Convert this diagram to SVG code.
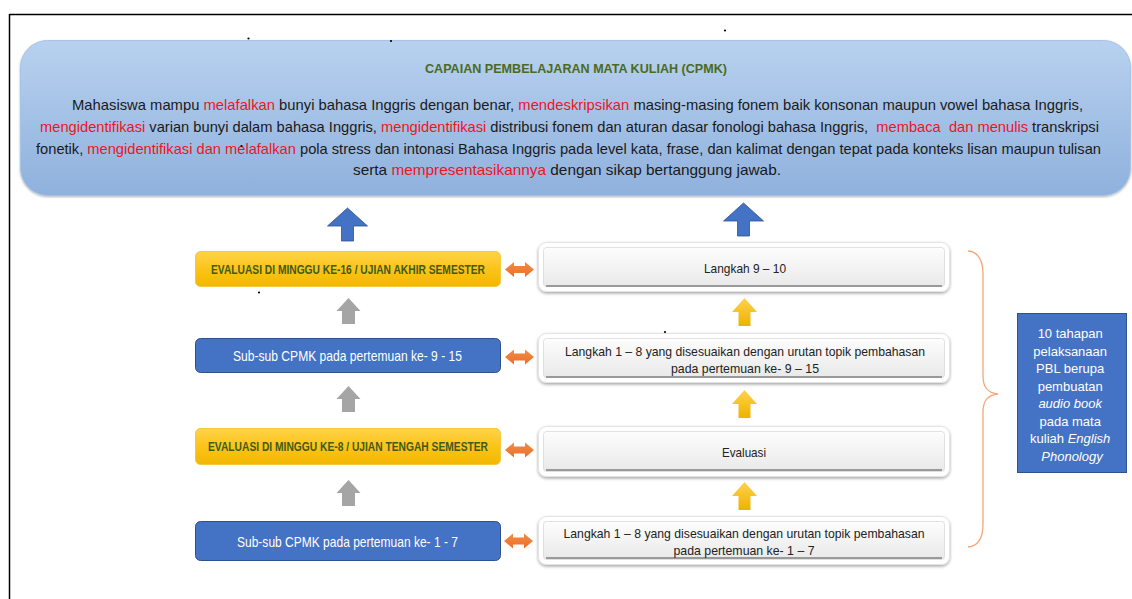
<svg xmlns="http://www.w3.org/2000/svg" width="1132" height="599" viewBox="0 0 1132 599">
<defs>
<linearGradient id="gTop" x1="0" y1="0" x2="0" y2="1"><stop offset="0" stop-color="#b8d1ef"/><stop offset="1" stop-color="#8fb1dd"/></linearGradient>
<linearGradient id="gGold" x1="0" y1="0" x2="0" y2="1"><stop offset="0" stop-color="#ffd34a"/><stop offset="0.5" stop-color="#fcc419"/><stop offset="1" stop-color="#f2b700"/></linearGradient>
<linearGradient id="gGray" x1="0" y1="0" x2="0" y2="1"><stop offset="0" stop-color="#fdfdfd"/><stop offset="1" stop-color="#e9e9e9"/></linearGradient>
<linearGradient id="gYArrow" x1="0" y1="0" x2="0" y2="1"><stop offset="0" stop-color="#ffd24d"/><stop offset="1" stop-color="#eeb200"/></linearGradient>
<linearGradient id="gOrange" x1="0" y1="0" x2="0" y2="1"><stop offset="0" stop-color="#f58a45"/><stop offset="1" stop-color="#e8712a"/></linearGradient>
<filter id="sh" x="-5%" y="-20%" width="110%" height="150%"><feDropShadow dx="0" dy="1.5" stdDeviation="1.8" flood-color="#000" flood-opacity="0.35"/></filter>
<filter id="sh2" x="-5%" y="-20%" width="110%" height="150%"><feDropShadow dx="0" dy="1" stdDeviation="1" flood-color="#000" flood-opacity="0.3"/></filter>
<path id="dblArrow" d="M-14.5,0 L-5.5,-7.5 L-5.5,-3.5 L5.5,-3.5 L5.5,-7.5 L14.5,0 L5.5,7.5 L5.5,3.5 L-5.5,3.5 L-5.5,7.5 Z"/>
<path id="grayUp" d="M0,0 L12,13 L6.5,13 L6.5,26 L-6.5,26 L-6.5,13 L-12,13 Z"/>
<path id="yellowUp" d="M0,0 L12.5,14 L6,14 L6,28 L-6,28 L-6,14 L-12.5,14 Z"/>
<path id="blueUp" d="M0,0 L20,18 L6,18 L6,33 L-6,33 L-6,18 L-20,18 Z"/>
</defs>
<style>
.t{font-family:"Liberation Sans",Arial,sans-serif;}
.body{font-size:15px;fill:#1a1a1a;white-space:pre;}
.red{fill:#f0141e;}
.title{font-size:13.5px;font-weight:bold;fill:#4a6a23;}
.ytxt{font-size:12.5px;font-weight:bold;fill:#3f5a1a;}
.btxt{font-size:14.5px;fill:#ffffff;}
.gtxt{font-size:13.5px;fill:#222;}
.stxt{font-size:13px;fill:#ffffff;}
.ybox{fill:url(#gGold);stroke:#f5c842;stroke-width:1;}
.bbox{fill:#4472c4;stroke:#2f528f;stroke-width:1;}
.frame{fill:#ffffff;stroke:#e4e4e4;stroke-width:1;}
.gbox{fill:url(#gGray);stroke:#d9d9d9;stroke-width:0.8;}
.gline{stroke:#9a9a9a;stroke-width:2;}
.dot{fill:#000;}
</style>

<rect width="1132" height="599" fill="#ffffff"/>
<g id="page-frame">
<line x1="9.5" y1="14.5" x2="1132" y2="14.5" stroke="#000" stroke-width="1.5"/>
<line x1="9.5" y1="14" x2="9.5" y2="599" stroke="#000" stroke-width="1.5"/>
</g>

<g id="cpmk">
<rect x="20.5" y="40.5" width="1110" height="155" rx="27" fill="url(#gTop)" stroke="#a8c3e6" stroke-width="1" filter="url(#sh2)"/>
<text class="t title" x="425" y="72.5" textLength="302" lengthAdjust="spacingAndGlyphs">CAPAIAN PEMBELAJARAN MATA KULIAH (CPMK)</text>
<text class="t body" x="72" y="110" textLength="1011" lengthAdjust="spacingAndGlyphs">Mahasiswa mampu <tspan class="red">melafalkan</tspan> bunyi bahasa Inggris dengan benar, <tspan class="red">mendeskripsikan</tspan> masing-masing fonem baik konsonan maupun vowel bahasa Inggris,</text>
<text class="t body" x="40" y="132" textLength="1059" lengthAdjust="spacingAndGlyphs"><tspan class="red">mengidentifikasi</tspan> varian bunyi dalam bahasa Inggris, <tspan class="red">mengidentifikasi</tspan> distribusi fonem dan aturan dasar fonologi bahasa Inggris,  <tspan class="red">membaca  dan menulis</tspan> transkripsi</text>
<text class="t body" x="36" y="154" textLength="1065" lengthAdjust="spacingAndGlyphs">fonetik, <tspan class="red">mengidentifikasi dan melafalkan</tspan> pola stress dan intonasi Bahasa Inggris pada level kata, frase, dan kalimat dengan tepat pada konteks lisan maupun tulisan</text>
<text class="t body" x="353" y="175" textLength="428" lengthAdjust="spacingAndGlyphs">serta <tspan class="red">mempresentasikannya</tspan> dengan sikap bertanggung jawab.</text>
</g>

<g id="eval-uas">
<rect class="ybox" x="195.5" y="251.5" width="305" height="35" rx="5"/>
<text class="t ytxt" x="211" y="274" textLength="274" lengthAdjust="spacingAndGlyphs">EVALUASI DI MINGGU KE-16 / UJIAN AKHIR SEMESTER</text>
</g>
<g id="sub-cpmk-9-15">
<rect class="bbox" x="195.5" y="338.5" width="305" height="34" rx="5"/>
<text class="t btxt" x="347.5" y="360.5" text-anchor="middle" textLength="229" lengthAdjust="spacingAndGlyphs">Sub-sub CPMK pada pertemuan ke- 9 - 15</text>
</g>
<g id="eval-uts">
<rect class="ybox" x="195.5" y="428.5" width="305" height="36" rx="5"/>
<text class="t ytxt" x="208" y="451" textLength="280" lengthAdjust="spacingAndGlyphs">EVALUASI DI MINGGU KE-8 / UJIAN TENGAH SEMESTER</text>
</g>
<g id="sub-cpmk-1-7">
<rect class="bbox" x="195.5" y="521.5" width="305" height="39" rx="5"/>
<text class="t btxt" x="347.5" y="546.5" text-anchor="middle" textLength="221" lengthAdjust="spacingAndGlyphs">Sub-sub CPMK pada pertemuan ke- 1 - 7</text>
</g>

<g id="langkah-9-10">
<rect class="frame" x="538.5" y="242.5" width="411" height="49" rx="8" filter="url(#sh)"/>
<rect class="gbox" x="543.5" y="247.5" width="401" height="39" rx="3"/>
<line class="gline" x1="546" y1="286" x2="942" y2="286"/>
<text class="t gtxt" x="745" y="272.5" text-anchor="middle" textLength="82" lengthAdjust="spacingAndGlyphs">Langkah 9 – 10</text>
</g>
<g id="langkah-1-8-b">
<rect class="frame" x="538.5" y="333.5" width="411" height="49" rx="8" filter="url(#sh)"/>
<rect class="gbox" x="543.5" y="338.5" width="401" height="39" rx="3"/>
<line class="gline" x1="546" y1="377" x2="942" y2="377"/>
<text class="t gtxt" x="745" y="355.5" text-anchor="middle" textLength="360" lengthAdjust="spacingAndGlyphs">Langkah 1 – 8 yang disesuaikan dengan urutan topik pembahasan</text>
<text class="t gtxt" x="745" y="372.5" text-anchor="middle" textLength="148" lengthAdjust="spacingAndGlyphs">pada pertemuan ke- 9 – 15</text>
</g>
<g id="evaluasi">
<rect class="frame" x="538.5" y="426.5" width="411" height="50" rx="8" filter="url(#sh)"/>
<rect class="gbox" x="543.5" y="431.5" width="401" height="40" rx="3"/>
<line class="gline" x1="546" y1="470" x2="942" y2="470"/>
<text class="t gtxt" x="744" y="456.5" text-anchor="middle" textLength="44" lengthAdjust="spacingAndGlyphs">Evaluasi</text>
</g>
<g id="langkah-1-8-a">
<rect class="frame" x="538.5" y="516.5" width="411" height="48" rx="8" filter="url(#sh)"/>
<rect class="gbox" x="543.5" y="521.5" width="401" height="38" rx="3"/>
<line class="gline" x1="546" y1="558" x2="942" y2="558"/>
<text class="t gtxt" x="744" y="537.5" text-anchor="middle" textLength="361" lengthAdjust="spacingAndGlyphs">Langkah 1 – 8 yang disesuaikan dengan urutan topik pembahasan</text>
<text class="t gtxt" x="744" y="555" text-anchor="middle" textLength="141" lengthAdjust="spacingAndGlyphs">pada pertemuan ke- 1 – 7</text>
</g>

<g id="pbl-note">
<rect x="1017.5" y="313.5" width="109" height="159" fill="#4472c4" stroke="#2f528f" stroke-width="1"/>
<text class="t stxt" text-anchor="middle">
<tspan x="1072" y="338">10 tahapan</tspan>
<tspan x="1072" y="355.5">pelaksanaan</tspan>
<tspan x="1072" y="373">PBL berupa</tspan>
<tspan x="1072" y="390.5">pembuatan</tspan>
<tspan x="1072" y="408" font-style="italic">audio book</tspan>
<tspan x="1072" y="425.5">pada mata</tspan>
<tspan x="1072" y="443">kuliah <tspan font-style="italic">English</tspan></tspan>
<tspan x="1072" y="460.5" font-style="italic">Phonology</tspan>
</text>
</g>

<g id="connectors">
<use href="#blueUp" x="347.5" y="208" fill="#4472c4" stroke="#2f528f" stroke-width="0.8"/>
<use href="#blueUp" x="743.5" y="203" fill="#4472c4" stroke="#2f528f" stroke-width="0.8"/>
<use href="#grayUp" x="348.5" y="298" fill="#a5a5a5"/>
<use href="#grayUp" x="348.5" y="386" fill="#a5a5a5"/>
<use href="#grayUp" x="348.5" y="480" fill="#a5a5a5"/>
<g fill="url(#gYArrow)">
<use href="#yellowUp" x="744.5" y="298"/>
<use href="#yellowUp" x="744.5" y="390"/>
<use href="#yellowUp" x="744.5" y="482"/>
</g>
<g fill="url(#gOrange)">
<use href="#dblArrow" x="519.5" y="269.5"/>
<use href="#dblArrow" x="519.5" y="357"/>
<use href="#dblArrow" x="519.5" y="450"/>
<use href="#dblArrow" x="518.5" y="541"/>
</g>
<path d="M968,251 C979,252 983,261 983,274 L983,376 C983,388 988,393 998,394 C988,395 983,400 983,412 L983,524 C983,537 979,546 968,547" fill="none" stroke="#f4a676" stroke-width="1.3"/>
</g>

<g id="specks">
<circle class="dot" cx="248.5" cy="38.5" r="1.1"/>
<circle class="dot" cx="391" cy="41" r="1.1"/>
<circle class="dot" cx="725" cy="30.5" r="1.1"/>
<circle class="dot" cx="241.5" cy="146" r="1.1"/>
<circle class="dot" cx="259" cy="292.5" r="1.1"/>
<circle class="dot" cx="665" cy="332" r="1.1"/>
</g>
</svg>
